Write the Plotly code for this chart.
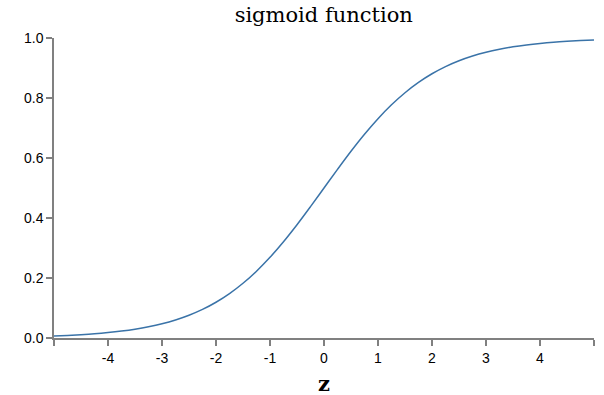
import plotly.graph_objects as go

# z values and sigmoid values
z_vals = [-5.0, -4.75, -4.5, -4.25, -4.0, -3.75, -3.5, -3.25, -3.0, -2.75, -2.5,
          -2.25, -2.0, -1.75, -1.5, -1.25, -1.0, -0.75, -0.5, -0.25, 0.0,
          0.25, 0.5, 0.75, 1.0, 1.25, 1.5, 1.75, 2.0, 2.25, 2.5,
          2.75, 3.0, 3.25, 3.5, 3.75, 4.0, 4.25, 4.5, 4.75, 5.0]
sig_vals = [0.0067, 0.0086, 0.0110, 0.0140, 0.0180, 0.0230, 0.0293, 0.0373, 0.0474, 0.0601, 0.0759,
            0.0953, 0.1192, 0.1480, 0.1824, 0.2227, 0.2689, 0.3208, 0.3775, 0.4378, 0.5000,
            0.5622, 0.6225, 0.6792, 0.7311, 0.7773, 0.8176, 0.8520, 0.8808, 0.9047, 0.9241,
            0.9399, 0.9526, 0.9627, 0.9707, 0.9770, 0.9820, 0.9860, 0.9890, 0.9914, 0.9933]

x_tickvals = [-5, -4, -3, -2, -1, 0, 1, 2, 3, 4, 5]
x_ticktext = ["", "-4", "-3", "-2", "-1", "0", "1", "2", "3", "4", ""]
y_tickvals = [0.0, 0.2, 0.4, 0.6, 0.8, 1.0]
y_ticktext = ["0.0", "0.2", "0.4", "0.6", "0.8", "1.0"]

fig = go.Figure()
fig.add_trace(go.Scatter(x=z_vals, y=sig_vals, mode="lines", line_shape="spline",
                         line=dict(color="#3a73a8", width=1.5), hoverinfo="skip"))

axis_font = dict(family="Liberation Sans, Arial, sans-serif", size=14, color="#000")
serif = "'DejaVu Serif', Georgia, serif"
fig.update_layout(
    width=604, height=395,
    margin=dict(l=54, r=10, t=38, b=57),
    plot_bgcolor="white", paper_bgcolor="white",
    showlegend=False,
    title=dict(text="sigmoid function", x=0.536, xanchor="center", y=0.962, yanchor="middle",
               font=dict(family=serif, size=21, color="#000")),
    xaxis=dict(range=[-5, 5], tickvals=x_tickvals, ticktext=x_ticktext,
               showline=True, linecolor="#808080", linewidth=1.5, ticks="outside", ticklen=6,
               tickcolor="#808080", tickwidth=1.5, showgrid=False, zeroline=False,
               tickfont=axis_font),
    yaxis=dict(range=[0, 1], tickvals=y_tickvals, ticktext=y_ticktext,
               showline=True, linecolor="#808080", linewidth=1.5, ticks="outside", ticklen=6,
               tickcolor="#808080", tickwidth=1.5, showgrid=False, zeroline=False,
               tickfont=axis_font),
    annotations=[dict(text="<b>z</b>", x=0, xref="x", y=-0.15, yref="paper",
                      xanchor="center", yanchor="middle", showarrow=False,
                      font=dict(family=serif, size=21, color="#000"))],
)

fig.write_html("out.html", config={"displayModeBar": False},
               post_script="document.body.style.margin='0';")
